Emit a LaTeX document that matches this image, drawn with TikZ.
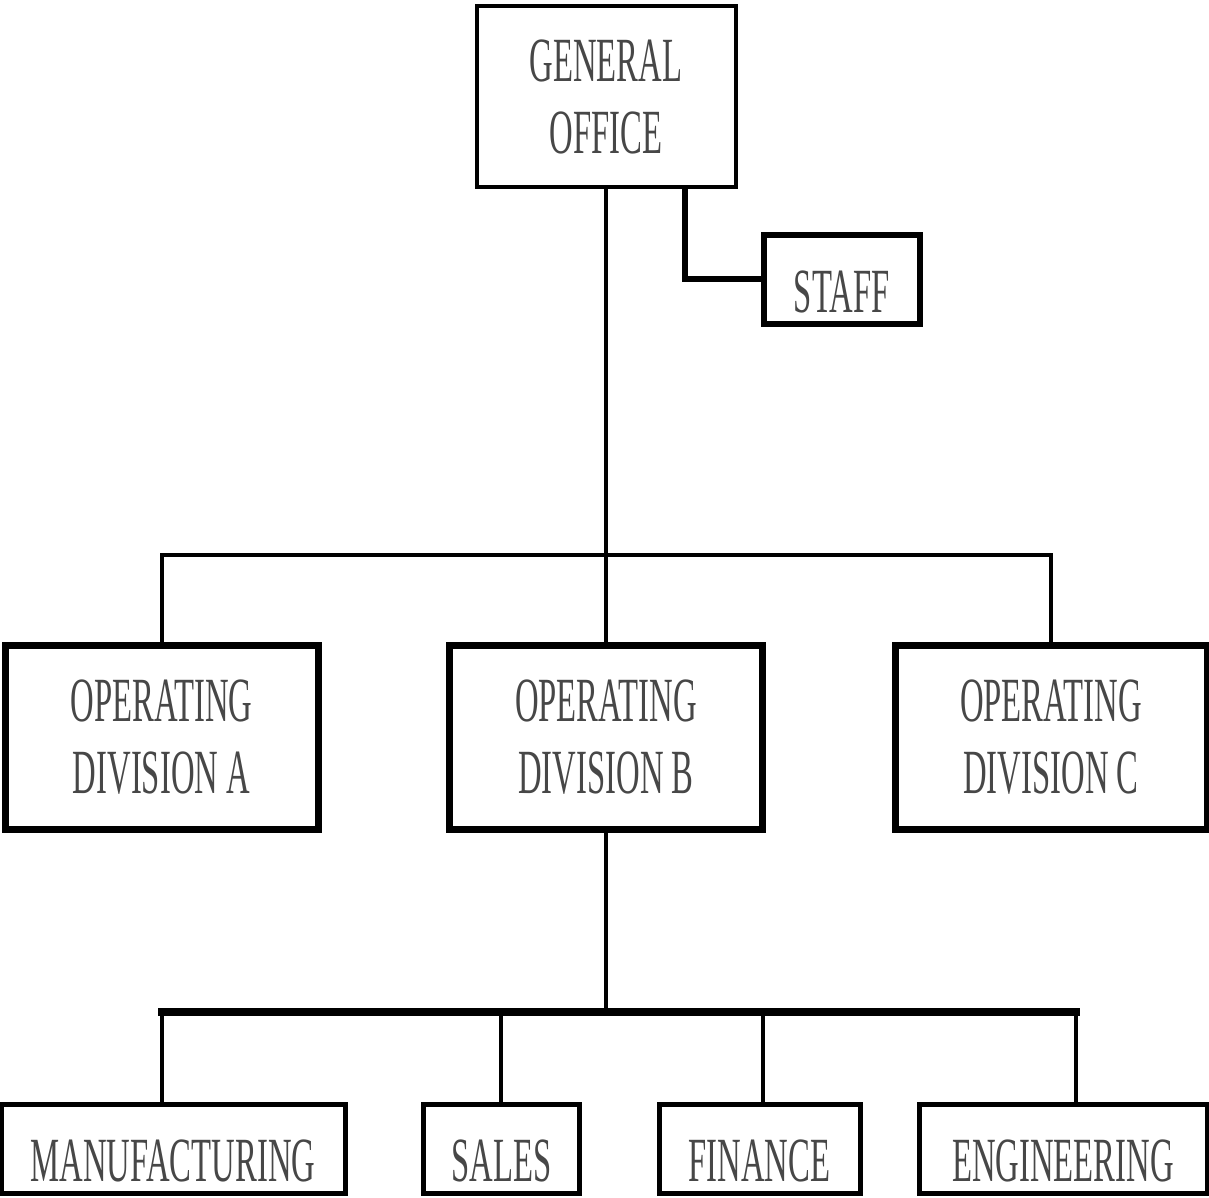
\documentclass[tikz,border=0pt]{standalone}
\usepackage{fontspec}
\setmainfont{Liberation Serif}[FakeStretch=0.52]

\begin{document}
\begin{tikzpicture}[x=0.1mm, y=-0.1mm, font=\fontsize{17.9pt}{20.5pt}\selectfont]
	\tikzstyle{box} = [draw=black, rectangle, inner sep=0pt, align=center, text=black!72]
	\tikzstyle{topbox} = [box, line width=0.4mm, minimum width=25.9mm, minimum height=18.05mm]
	\tikzstyle{staffbox} = [box, line width=0.6mm, minimum height=8.9mm, text height=6.6mm, text depth=0pt]
	\tikzstyle{divbox} = [box, line width=0.7mm, minimum width=31.3mm, minimum height=18.3mm]
	\tikzstyle{deptbox} = [box, line width=0.5mm, minimum height=8.95mm, text height=6.6mm, text depth=0pt]
	\tikzstyle{thinline} = [line width=0.4mm]
	\tikzstyle{staffline} = [line width=0.6mm]
	\tikzstyle{barline} = [line width=0.8mm, line cap=rect]

	\useasboundingbox (0,0) rectangle (1209,1198);

	% head office and staff
	\node[topbox] 	at (606, 96.75) 		(go) 	{GENERAL\\OFFICE};
	\node[staffbox, minimum width=15.55mm] 	at (841.75, 279.5)	(staff) 	{STAFF};

	% operating divisions
	\node[divbox] 	at (161.5, 737.5) 	(diva) 	{OPERATING\\DIVISION A};
	\node[divbox] 	at (606, 737.5) 	(divb) 	{OPERATING\\DIVISION B};
	\node[divbox, minimum width=31.2mm] 	at (1051, 737.5) 	(divc) 	{OPERATING\\DIVISION C};

	% departments of division B
	\node[deptbox, minimum width=34.4mm] 	at (173, 1148.75) 	(manu) 	{MANUFACTURING};
	\node[deptbox, minimum width=15.55mm] 	at (501.25, 1148.75) 	(sales) 	{SALES};
	\node[deptbox, minimum width=20.1mm] 	at (759.5, 1148.75) 	(fin) 	{FINANCE};
	\node[deptbox, minimum width=28.8mm] 	at (1063, 1148.75) 	(eng) 	{ENGINEERING};

	\coordinate (staffknee) at (685, 280);
	\coordinate (upbar) at (606, 555);
	\coordinate (lowbar) at (606, 1012);
	\coordinate (tapm) at (162, 1012);
	\coordinate (taps) at (501, 1012);
	\coordinate (tapf) at (763, 1012);
	\coordinate (tape) at (1076, 1012);

	\draw[staffline] (go.south -| staffknee) |- (staff.west);
	\draw[thinline] (go.south) -- (divb.north);
	\draw[thinline] (diva.north) |- (upbar) -| (divc.north);

	\draw[thinline] (divb.south) -- (lowbar);
	\draw[barline] (tapm) -- (tape);
	\foreach \t/\b in {tapm/manu, taps/sales, tapf/fin, tape/eng}
		\draw[thinline] (\t) -- (\t |- \b.north);
\end{tikzpicture}
\end{document}
